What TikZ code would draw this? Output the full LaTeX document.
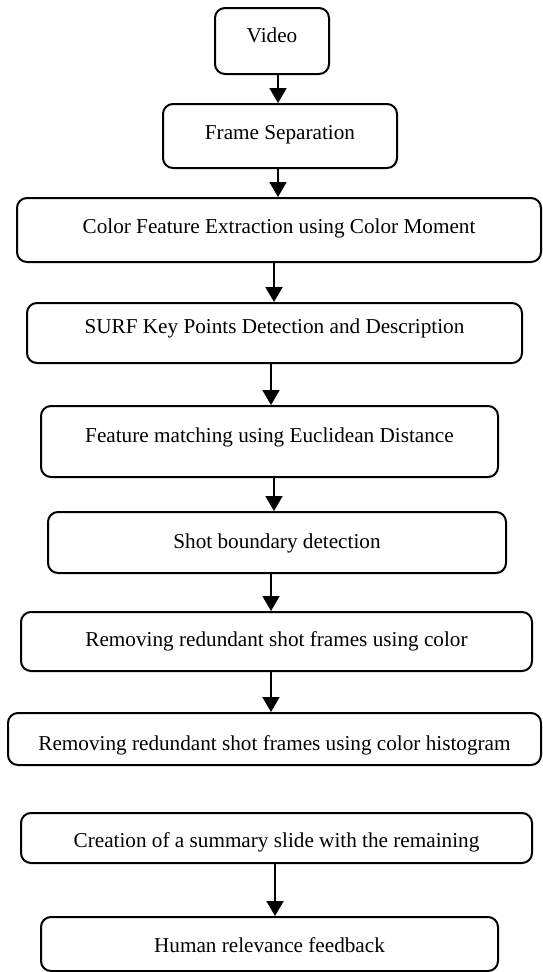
\documentclass[tikz,border=0pt]{standalone}
\usepackage{fontspec}
\setmainfont{Liberation Serif}
\usetikzlibrary{arrows.meta}
\begin{document}
\begin{tikzpicture}[x=1pt,y=-1pt,
  box/.style={draw=black, line width=2pt, rounded corners=10pt, fill=white,
    inner xsep=0pt, inner ysep=0pt, anchor=north,
    font=\fontsize{21.2}{25}\selectfont, align=center},
  arr/.style={line width=2pt, -{Triangle[width=17pt,length=15pt]}}]
\useasboundingbox (0,0) rectangle (542,972);
\node[box, minimum width=114pt, text height=34.6pt, text depth=31.4pt] (v)  at (272,7)     {Video};
\node[box, minimum width=234pt, text height=35pt,   text depth=29pt]   (fs) at (280,103)   {Frame Separation};
\node[box, minimum width=524pt, text height=35.6pt, text depth=28.4pt] (cf) at (279,197)   {Color Feature Extraction using Color Moment};
\node[box, minimum width=495pt, text height=30pt,   text depth=30pt]   (sf) at (274.5,302) {SURF Key Points Detection and Description};
\node[box, minimum width=457pt, text height=36pt,   text depth=35pt]   (fm) at (269.5,405) {Feature matching using Euclidean Distance};
\node[box, minimum width=458pt, text height=36pt,   text depth=25pt]   (sb) at (277,511)   {Shot boundary detection};
\node[box, minimum width=511pt, text height=34pt,   text depth=25pt]   (rc) at (276.5,611) {Removing redundant shot frames using color};
\node[box, minimum width=533pt, text height=37pt,   text depth=15pt]   (rh) at (274.5,712) {Removing redundant shot frames using color histogram};
\node[box, minimum width=511pt, text height=34pt,   text depth=16pt]   (cr) at (276.5,812) {Creation of a summary slide with the remaining};
\node[box, minimum width=457pt, text height=35.6pt, text depth=18.4pt] (hr) at (269.5,916) {Human relevance feedback};
\coordinate (a1) at (278,0);
\coordinate (a2) at (278,0);
\coordinate (a3) at (274,0);
\coordinate (a4) at (271,0);
\coordinate (a5) at (274,0);
\coordinate (a6) at (271,0);
\coordinate (a7) at (271,0);
\coordinate (a8) at (275,0);
\draw[arr] (v.south -| a1) -- (fs.north -| a1);
\draw[arr] (fs.south -| a2) -- (cf.north -| a2);
\draw[arr] (cf.south -| a3) -- (sf.north -| a3);
\draw[arr] (sf.south -| a4) -- (fm.north -| a4);
\draw[arr] (fm.south -| a5) -- (sb.north -| a5);
\draw[arr] (sb.south -| a6) -- (rc.north -| a6);
\draw[arr] (rc.south -| a7) -- (rh.north -| a7);
\draw[arr] (cr.south -| a8) -- (hr.north -| a8);
\end{tikzpicture}
\end{document}
